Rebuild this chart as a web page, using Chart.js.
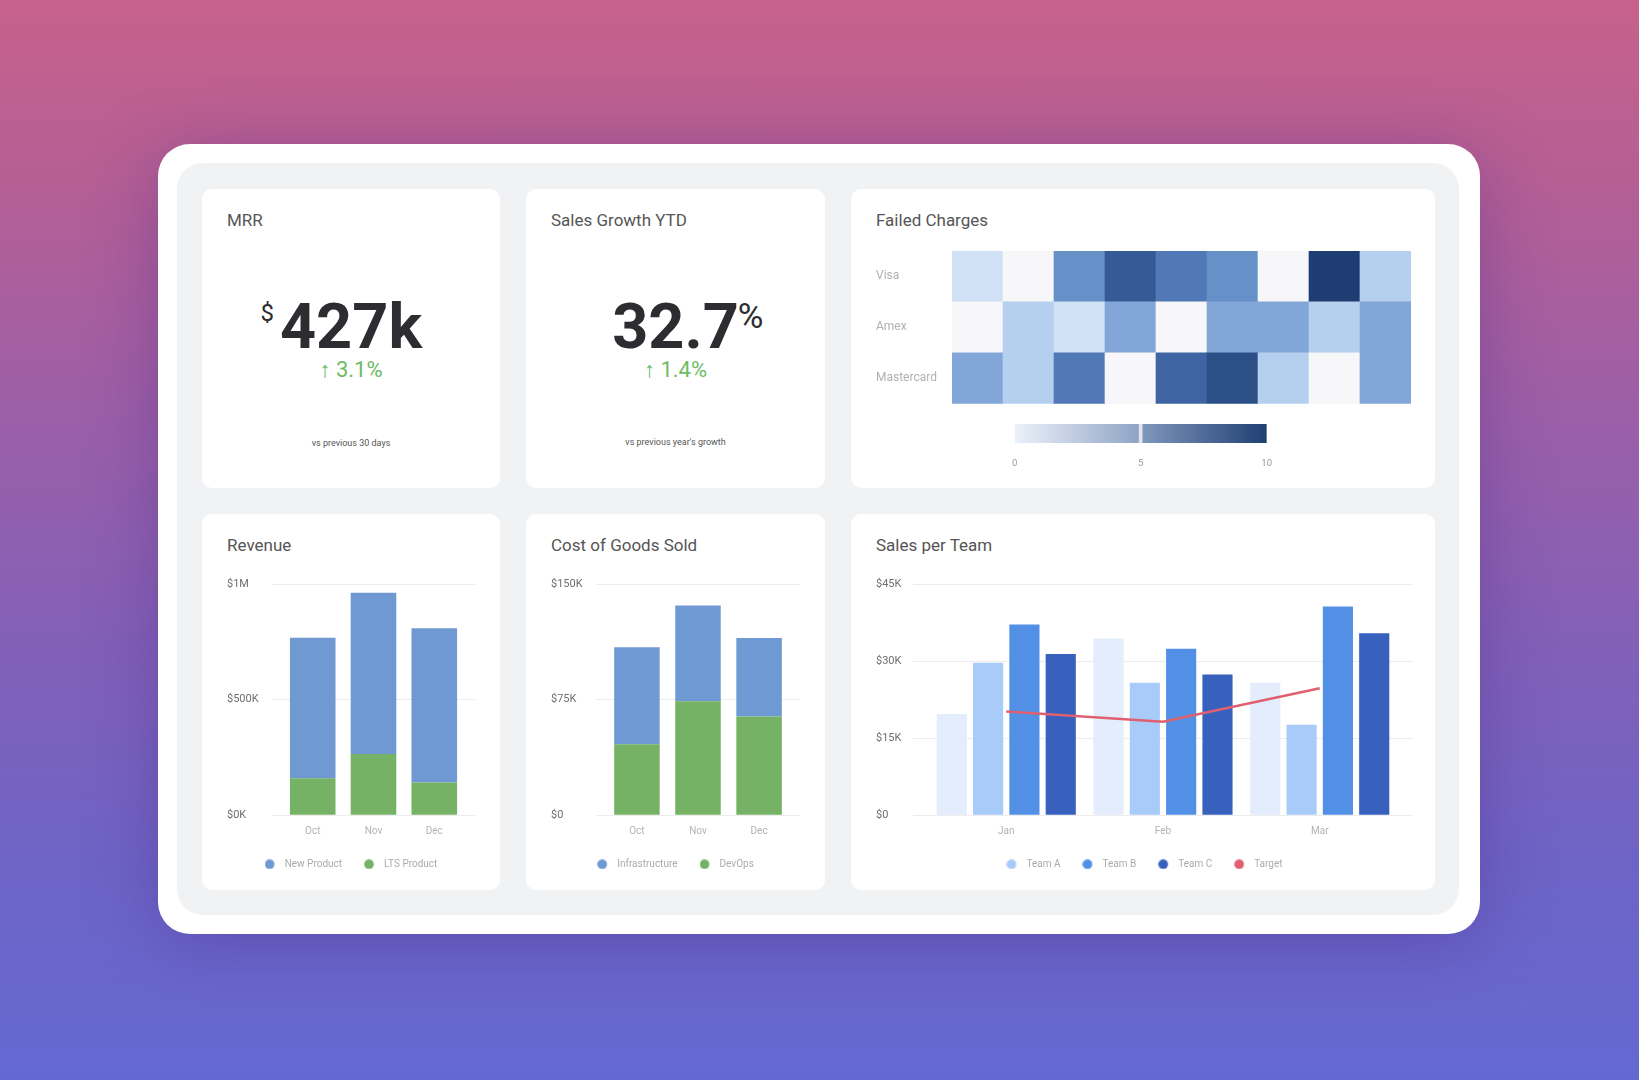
<!DOCTYPE html>
<html>
<head>
<meta charset="utf-8">
<script src="https://cdn.jsdelivr.net/npm/chart.js@4.4.1/dist/chart.umd.min.js"></script>
<style>
html,body{margin:0;padding:0;}
body{width:1639px;height:1080px;overflow:hidden;position:relative;font-family:Roboto,"Noto Sans",sans-serif;
  background:linear-gradient(180deg,#c6618b 0%,#b45f96 18%,#9a5fa9 40%,#8260b8 60%,#6e64c6 80%,#6469d2 100%);}
.frame{position:absolute;left:158px;top:144px;width:1322px;height:790px;background:#fff;border-radius:32px;box-shadow:0 10px 70px rgba(70,35,130,0.35);}
.panel{position:absolute;left:177px;top:163px;width:1282px;height:752px;background:#f1f2f4;border-radius:26px;}
.card{position:absolute;background:#fff;border-radius:10px;}
.title{position:absolute;left:25px;top:20px;font-size:17px;color:#555;line-height:22px;white-space:nowrap;}
.big{position:absolute;left:0;right:0;text-align:center;font-size:63px;font-weight:700;line-height:63px;color:#2d2d31;}
.big .num{position:relative;display:inline-block;}
.big .pre{position:absolute;right:100%;margin-right:6px;top:6px;font-size:24px;font-weight:400;line-height:24px;}
.big .suf{position:absolute;left:100%;margin-left:-1px;top:4px;font-size:35px;font-weight:400;line-height:35px;}
.delta{position:absolute;left:0;right:0;text-align:center;font-size:22px;color:#6cbc63;line-height:24px;}
.note{position:absolute;left:0;right:0;text-align:center;font-size:9px;color:#555;line-height:12px;}
.cw{position:absolute;}
</style>
</head>
<body>
<div class="frame"></div>
<div class="panel"></div>

<div class="card" style="left:202px;top:189px;width:298px;height:299px;">
  <div class="title">MRR</div>
  <div class="big" style="top:106px;"><span class="num"><span class="pre" id="mrrPre"></span><span id="mrrVal"></span></span></div>
  <div class="delta" style="top:169px;" id="mrrDelta"></div>
  <div class="note" style="top:248px;" id="mrrNote"></div>
</div>

<div class="card" style="left:526px;top:189px;width:299px;height:299px;">
  <div class="title">Sales Growth YTD</div>
  <div class="big" style="top:106px;"><span class="num"><span id="sgVal"></span><span class="suf" id="sgSuf"></span></span></div>
  <div class="delta" style="top:169px;" id="sgDelta"></div>
  <div class="note" style="top:247px;" id="sgNote"></div>
</div>

<div class="card" style="left:851px;top:189px;width:584px;height:299px;">
  <div class="title">Failed Charges</div>
  <div class="cw" style="left:0;top:50px;width:584px;height:175px;"><canvas id="heat"></canvas></div>
  <div class="cw" style="left:146px;top:229px;width:290px;height:54px;"><canvas id="cbar"></canvas></div>
</div>

<div class="card" style="left:202px;top:514px;width:298px;height:376px;">
  <div class="title">Revenue</div>
  <div class="cw" style="left:0;top:50px;width:298px;height:326px;"><canvas id="rev"></canvas></div>
</div>

<div class="card" style="left:526px;top:514px;width:299px;height:376px;">
  <div class="title">Cost of Goods Sold</div>
  <div class="cw" style="left:0;top:50px;width:299px;height:326px;"><canvas id="cogs"></canvas></div>
</div>

<div class="card" style="left:851px;top:514px;width:584px;height:376px;">
  <div class="title">Sales per Team</div>
  <div class="cw" style="left:0;top:50px;width:584px;height:326px;"><canvas id="team"></canvas></div>
</div>

<script>
// ---------- DATA ----------
const mrrValue = '427k';
const mrrPrefix = '$';
const mrrChange = '↑ 3.1%';
const mrrNote = 'vs previous 30 days';
const growthValue = '32.7';
const growthSuffix = '%';
const growthChange = '↑ 1.4%';
const growthNote = "vs previous year's growth";

const heatRows = ['Visa', 'Amex', 'Mastercard'];
const heatCols = ['1', '2', '3', '4', '5', '6', '7', '8', '9'];
const visaFails = [2, 0, 6, 8.5, 7, 6, 0, 10, 3];
const amexFails = [0, 3, 2, 5, 0, 5, 5, 3, 5];
const mastercardFails = [5, 3, 7, 0, 8, 9, 3, 0, 5];
const colorbarTicks = [0, 5, 10];

const months = ['Oct', 'Nov', 'Dec'];
const revenueNew = [608, 697, 667];   // $K
const revenueLTS = [160, 265, 142];   // $K
const revenueTickValues = [0, 500, 1000];
const revenueTickLabels = ['$0K', '$500K', '$1M'];

const cogsInfra = [63, 62, 51];       // $K
const cogsDevOps = [46, 74, 64];      // $K
const cogsTickValues = [0, 75, 150];
const cogsTickLabels = ['$0', '$75K', '$150K'];

const quarters = ['Jan', 'Feb', 'Mar'];
const teamBase = [19.7, 34.4, 25.8];  // $K (unlabelled series)
const teamA = [29.7, 25.8, 17.6];
const teamB = [37.1, 32.4, 40.6];
const teamC = [31.4, 27.4, 35.4];
const teamTarget = [20.2, 18.2, 24.7];
const teamTickValues = [0, 15, 30, 45];
const teamTickLabels = ['$0', '$15K', '$30K', '$45K'];

// ---------- TEXT ----------
document.getElementById('mrrPre').textContent = mrrPrefix;
document.getElementById('mrrVal').textContent = mrrValue;
document.getElementById('mrrDelta').textContent = mrrChange;
document.getElementById('mrrNote').textContent = mrrNote;
document.getElementById('sgVal').textContent = growthValue;
document.getElementById('sgSuf').textContent = growthSuffix;
document.getElementById('sgDelta').textContent = growthChange;
document.getElementById('sgNote').textContent = growthNote;

// ---------- CHARTS ----------
Chart.defaults.font.family = 'Roboto, "Noto Sans", sans-serif';
Chart.defaults.animation = false;

const BLUE = '#6f99d3', GREEN = '#75b265';

// legend marker: a dot on the left of a slightly wider swatch
const DOT_W = 15;
function makeDot(color) {
  const c = document.createElement('canvas');
  c.width = DOT_W; c.height = 10;
  const g = c.getContext('2d');
  g.fillStyle = color; g.beginPath(); g.arc(5, 5, 4.8, 0, Math.PI * 2); g.fill();
  return c;
}
const legendLabels = (sortFn, filterFn) => ({
  usePointStyle: true, pointStyleWidth: DOT_W, boxHeight: 10,
  padding: 22, color: '#ababab', font: {size: 10}, sort: sortFn, filter: filterFn,
  generateLabels: (chart) => {
    const items = Chart.defaults.plugins.legend.labels.generateLabels(chart);
    items.forEach(it => {
      const col = chart.data.datasets[it.datasetIndex].backgroundColor;
      it.pointStyle = makeDot(col); it.lineWidth = 0;
    });
    return items;
  }
});
const xLinear = (labels, margin) => ({
  type: 'linear', min: -margin, max: labels.length - 1 + margin, stacked: true, offset: false,
  grid: {display: false, drawTicks: false}, border: {display: false},
  afterBuildTicks: s => { s.ticks = labels.map((l, i) => ({value: i})); },
  afterFit: s => { s.height = 22; },
  ticks: {callback: v => labels[v], color: '#b3b3b3', font: {size: 10}, padding: 10, autoSkip: false, maxRotation: 0}
});
const yAxis = (vals, labs, width, stacked) => ({
  min: vals[0], max: vals[vals.length - 1], stacked: stacked,
  afterBuildTicks: s => { s.ticks = vals.map(v => ({value: v})); },
  afterFit: s => { s.width = width; },
  ticks: {callback: (v, i) => labs[i], crossAlign: 'far', color: '#6e6e6e', font: {size: 11}},
  grid: {color: '#ececec', drawTicks: false}, border: {display: false}
});
const pts = (arr) => arr.map((v, i) => ({x: i, y: v}));
const PAD = {left: 25, right: 25, top: 20, bottom: 10.7};

// Revenue
new Chart(document.getElementById('rev'), {
  type: 'bar',
  data: {datasets: [
    {label: 'LTS Product', data: pts(revenueLTS), backgroundColor: GREEN},
    {label: 'New Product', data: pts(revenueNew), backgroundColor: BLUE}
  ]},
  options: {
    responsive: true, maintainAspectRatio: false,
    layout: {padding: PAD},
    datasets: {bar: {categoryPercentage: 1, barPercentage: 0.75}},
    plugins: {legend: {position: 'bottom', labels: legendLabels((a, b) => b.datasetIndex - a.datasetIndex)}, tooltip: {enabled: false}},
    scales: {x: xLinear(months, 0.67), y: yAxis(revenueTickValues, revenueTickLabels, 45, true)}
  }
});

// COGS
new Chart(document.getElementById('cogs'), {
  type: 'bar',
  data: {datasets: [
    {label: 'DevOps', data: pts(cogsDevOps), backgroundColor: GREEN},
    {label: 'Infrastructure', data: pts(cogsInfra), backgroundColor: BLUE}
  ]},
  options: {
    responsive: true, maintainAspectRatio: false,
    layout: {padding: PAD},
    datasets: {bar: {categoryPercentage: 1, barPercentage: 0.745}},
    plugins: {legend: {position: 'bottom', labels: legendLabels((a, b) => b.datasetIndex - a.datasetIndex)}, tooltip: {enabled: false}},
    scales: {x: xLinear(months, 0.67), y: yAxis(cogsTickValues, cogsTickLabels, 45, true)}
  }
});

// Sales per team
const teamX = xLinear(quarters, 0.595); teamX.stacked = false;
new Chart(document.getElementById('team'), {
  type: 'bar',
  data: {datasets: [
    {label: 'Base', data: pts(teamBase), backgroundColor: '#e3edfc', order: 1},
    {label: 'Team A', data: pts(teamA), backgroundColor: '#a9cbfa', order: 1},
    {label: 'Team B', data: pts(teamB), backgroundColor: '#5190e5', order: 1},
    {label: 'Team C', data: pts(teamC), backgroundColor: '#3761bd', order: 1},
    {type: 'line', label: 'Target', data: pts(teamTarget), borderColor: '#e0606f', backgroundColor: '#e0606f',
     borderWidth: 2.5, pointRadius: 0, tension: 0, order: 0}
  ]},
  options: {
    responsive: true, maintainAspectRatio: false,
    layout: {padding: {left: 25, right: 22, top: 20, bottom: 10.7}},
    datasets: {bar: {categoryPercentage: 0.927, barPercentage: 0.83}},
    plugins: {legend: {position: 'bottom', labels: legendLabels((a, b) => a.datasetIndex - b.datasetIndex, it => it.text !== 'Base')},
      tooltip: {enabled: false}},
    scales: {x: teamX, y: yAxis(teamTickValues, teamTickLabels, 37, false)}
  }
});

// Heatmap (rows stacked bottom-up)
const heatStops = [[0, [247, 246, 248]], [2, [208, 224, 245]], [3, [181, 207, 238]], [5, [130, 166, 215]],
  [6, [102, 144, 200]], [7, [82, 121, 183]], [8, [63, 100, 163]], [9, [44, 79, 136]], [10, [30, 61, 114]]];
function heatColor(v) {
  for (let i = 1; i < heatStops.length; i++) {
    const [v1, c1] = heatStops[i], [v0, c0] = heatStops[i - 1];
    if (v <= v1) {
      const t = (v - v0) / (v1 - v0);
      return 'rgb(' + c0.map((c, k) => Math.round(c + (c1[k] - c) * t)).join(',') + ')';
    }
  }
  return 'rgb(30,61,114)';
}
const heatData = [mastercardFails, amexFails, visaFails];
const heatNames = [heatRows[2], heatRows[1], heatRows[0]];
new Chart(document.getElementById('heat'), {
  type: 'bar',
  data: {labels: heatCols, datasets: heatData.map((row, r) => ({
    label: heatNames[r], data: row.map(() => 1), backgroundColor: row.map(heatColor), borderWidth: 0
  }))},
  options: {
    responsive: true, maintainAspectRatio: false,
    layout: {padding: {left: 25, right: 24, top: 12, bottom: 0}},
    datasets: {bar: {categoryPercentage: 1, barPercentage: 1}},
    plugins: {legend: {display: false}, tooltip: {enabled: false}},
    scales: {
      x: {stacked: true, display: false},
      y: {stacked: true, min: 0, max: 3,
        afterBuildTicks: s => { s.ticks = [0.5, 1.5, 2.5].map(v => ({value: v})); },
        afterFit: s => { s.width = 76; },
        ticks: {callback: (v, i) => heatNames[i], crossAlign: 'far', color: '#b0b0b0', font: {size: 12}},
        grid: {display: false, drawTicks: false}, border: {display: false}}
    }
  }
});

// Colour bar
new Chart(document.getElementById('cbar'), {
  type: 'bar',
  data: {labels: ['scale'], datasets: [
    {data: [[colorbarTicks[1] - 0.06, colorbarTicks[1] + 0.06]], backgroundColor: '#dfe4ec', grouped: false, order: 0},
    {data: [[colorbarTicks[0], colorbarTicks[2]]], grouped: false, order: 1,
     backgroundColor: (ctx) => {
       const ca = ctx.chart.chartArea;
       if (!ca) return '#8ca2c6';
       const g = ctx.chart.ctx.createLinearGradient(ca.left, 0, ca.right, 0);
       g.addColorStop(0, '#ecf1f9'); g.addColorStop(0.5, '#8ea3c5');
       g.addColorStop(0.51, '#7f96bc'); g.addColorStop(1, '#1f3f73');
       return g;
     }}
  ]},
  options: {
    indexAxis: 'y', responsive: true, maintainAspectRatio: false,
    layout: {padding: {left: 11, right: 9, top: 6, bottom: 2}},
    datasets: {bar: {categoryPercentage: 1, barPercentage: 1}},
    plugins: {legend: {display: false}, tooltip: {enabled: false}},
    scales: {
      y: {display: false},
      x: {display: true, type: 'linear', min: colorbarTicks[0], max: colorbarTicks[2],
        afterBuildTicks: s => { s.ticks = colorbarTicks.map(v => ({value: v})); },
        afterFit: s => { s.height = 27; },
        ticks: {display: true, callback: v => String(v), color: '#9a9a9a', font: {size: 9.5}, padding: 15, autoSkip: false, maxRotation: 0},
        grid: {display: false, drawTicks: false}, border: {display: false}}
    }
  }
});
</script>
</body>
</html>
